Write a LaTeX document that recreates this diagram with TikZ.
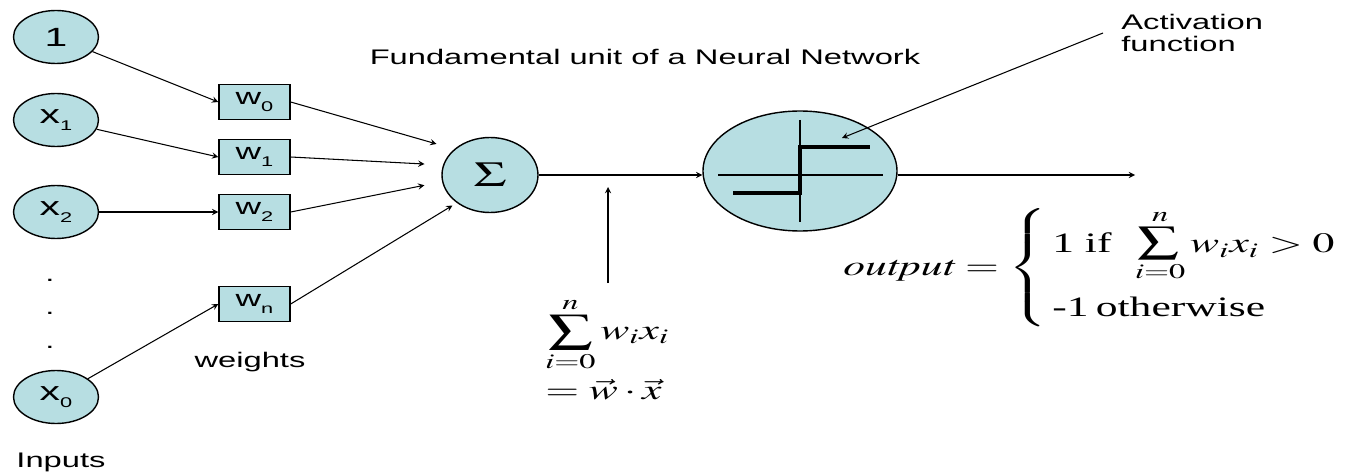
\documentclass[tikz,border=0pt]{standalone}
\usepackage{amsmath}
\usepackage{mathptmx}
\usepackage{graphicx}
\usepackage[no-math]{fontspec}
\setmainfont[FakeStretch=1.55]{Liberation Sans}
\newfontfamily\timesfont{Liberation Serif}
\usetikzlibrary{calc,shapes.geometric}
\definecolor{unitfill}{RGB}{183,222,226}
\newcommand{\lsub}[1]{\raisebox{-0.55ex}{\fontsize{8}{8}\selectfont #1}}
\newcommand{\wmath}[1]{\scalebox{1.55}[1]{#1}}
\newcommand{\midsum}{\mathop{\scalebox{1.35}{$\sum$}}\limits}

\begin{document}
\begin{tikzpicture}[>=stealth]
    \tikzstyle{input} = [draw, thick, ellipse, fill=unitfill, minimum width=1.7cm,
	minimum height=1.06cm, inner sep=0pt, font=\fontsize{15}{15}\selectfont]
    \tikzstyle{weight} = [draw, thick, rectangle, fill=unitfill, minimum width=1.42cm,
	minimum height=0.7cm, inner sep=0pt, font=\fontsize{13}{13}\selectfont]
    \tikzstyle{unit} = [draw, thick, ellipse, fill=unitfill, inner sep=0pt]
    \tikzstyle{note} = [font=\fontsize{12}{13}\selectfont]
    \tikzstyle{link} = [->, line width=0.6pt]

	\useasboundingbox (0,0) rectangle (27.18,-9.5);

	% inputs
	\node[input] (one) at (1.12,-0.74) {1};
	\node[input] (in1) at (1.12,-2.4) {x\lsub{1}};
	\node[input] (in2) at (1.12,-4.24) {x\lsub{2}};
	\node[input] (in0) at (1.12,-7.94) {x\lsub{0}};
	\foreach \y [count=\i] in {-5.6,-6.26,-6.94}
		\node[note] (dot\i) at (1.0,\y) {.};
	\node[note] (inlab) at (1.22,-9.24) {Inputs};

	% weights
	\node[weight] (w0) at (5.09,-2.04) {w\lsub{0}};
	\node[weight] (w1) at (5.09,-3.14) {w\lsub{1}};
	\node[weight] (w2) at (5.09,-4.24) {w\lsub{2}};
	\node[weight] (wn) at (5.09,-6.08) {w\lsub{n}};
	\node[note] (wlab) at (5.0,-7.24) {weights};

	\node[note] (title) at (12.9,-1.14) {Fundamental unit of a Neural Network};

	% summation and activation
	\node[unit, minimum width=1.92cm, minimum height=1.5cm,
		font=\fontsize{20}{20}\selectfont] (sum) at (9.8,-3.5) {\wmath{$\Sigma$}};
	\node[unit, minimum width=3.88cm, minimum height=2.4cm] (act) at (16.0,-3.42) {};

	\begin{scope}[shift={(act.center)}]
		\draw[line width=0.6pt] (-1.64,-0.08) -- (1.66,-0.08);
		\draw[line width=0.6pt] (0,1.02) -- (0,-1.02);
		\draw[line width=2.2pt] (-1.34,-0.44) -- (0,-0.44) -- (0,0.48) -- (1.4,0.48);
		\coordinate (acttip) at (0.84,0.66);
	\end{scope}

	\node[note, align=left, anchor=west, inner xsep=0.36cm] (actlab) at (22.06,-0.66)
		{Activation\\function};

	\path[link]
		(one) edge (w0.west)
		(in1) edge (w1.west)
		(in2) edge (w2.west)
		(in0) edge (wn.west)
		(w0.east) edge[shorten >=0.37cm] (sum.144)
		(w1.east) edge[shorten >=0.37cm] (sum.168)
		(w2.east) edge[shorten >=0.36cm] (sum.188)
		(wn.east) edge[shorten >=0.1cm] (sum.220)
		(actlab.west) edge (acttip)
		;

	\coordinate (out) at (22.7,-3.5);
	\draw[link] (sum.east) -- (sum.east -| act.west);
	\draw[link] (act.east |- out) -- (out);

	% formulas
	\node[anchor=north west, inner sep=0pt, align=left,
		font=\fontsize{16}{19}\selectfont] (dotp) at (10.9,-5.94)
		{\wmath{$\displaystyle\sum_{i=0}^{n} w_i x_i$}\\[3.5pt]
		 \wmath{$= \vec{w}\cdot\vec{x}$}};
	\coordinate (vbot) at (12.16,-5.66);
	\coordinate (vtop) at (12.16,-3.74);
	\draw[link] (vbot) -- (vtop);

	\node[anchor=west, inner sep=0pt, font=\fontsize{16}{19}\selectfont] (outf) at (16.86,-5.36)
		{\wmath{$\mathit{output} = \left\{\begin{array}{@{\,}l}
			\text{\timesfont 1\ if}\ \midsum_{i=0}^{n} w_i x_i > 0 \\[17pt]
			\text{\timesfont -1\,otherwise}
		\end{array}\right.$}};

\end{tikzpicture}
\end{document}
